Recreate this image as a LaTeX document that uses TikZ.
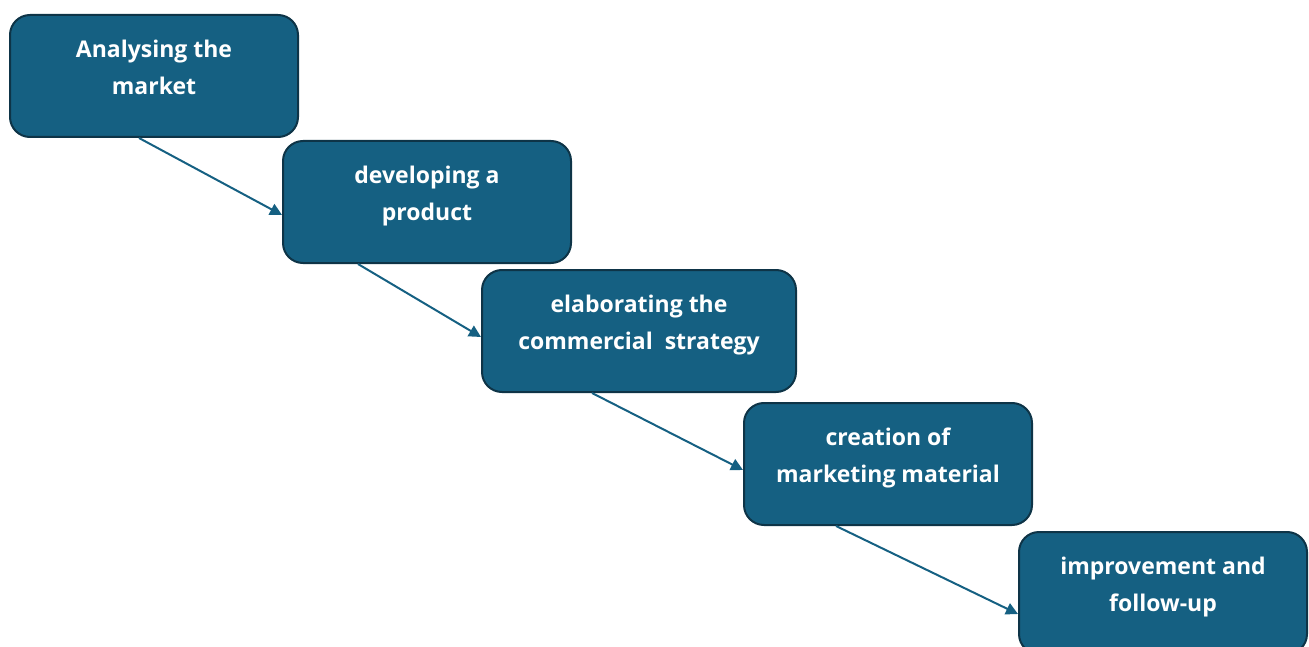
\documentclass[tikz,border=0pt]{standalone}
\usepackage{fontspec}
\setmainfont{Open Sans}
\usepackage{tikz}
\usetikzlibrary{arrows.meta,positioning}

\definecolor{stepblue}{HTML}{156082}
\definecolor{stepedge}{HTML}{0E3447}
% pushes the two text lines towards the top of each box
\newcommand{\lift}{\rule[-18pt]{0pt}{0pt}}

\begin{document}
\begin{tikzpicture}[
  x=1pt,y=1pt,
  every node/.style={font=\fontsize{23}{37}\selectfont\bfseries,align=center,text=white},
  box/.style={draw=stepedge,line width=2pt,rounded corners=20pt,fill=stepblue,
    minimum width=288pt,minimum height=122pt,inner sep=0pt},
  arr/.style={-{Triangle[length=12pt,width=12pt]},line width=2pt,draw=stepblue}
]
\useasboundingbox (0,0) rectangle (1309,-647);
\node[box,anchor=north west] (market) at (9,-14) {Analysing the\\market\lift};
\node[box,below right=2pt and -17pt of market] (product) {developing a\\product\lift};
\node[box,minimum width=314pt,below right=5pt and -91pt of product] (strategy) {elaborating the\\commercial\ \ strategy\lift};
\node[box,below right=9pt and -54pt of strategy] (material) {creation of\\marketing material\lift};
\node[box,below right=5pt and -15pt of material] (followup) {improvement and\\follow-up\lift};
\draw[arr] ([xshift=-15pt]market.south) -- ([yshift=-13pt]product.west);
\draw[arr] ([xshift=-69pt]product.south) -- ([yshift=-6pt]strategy.west);
\draw[arr] ([xshift=-47pt]strategy.south) -- ([yshift=-6pt]material.west);
\draw[arr] ([xshift=-52pt]material.south) -- ([yshift=-21pt]followup.west);
\end{tikzpicture}
\end{document}
